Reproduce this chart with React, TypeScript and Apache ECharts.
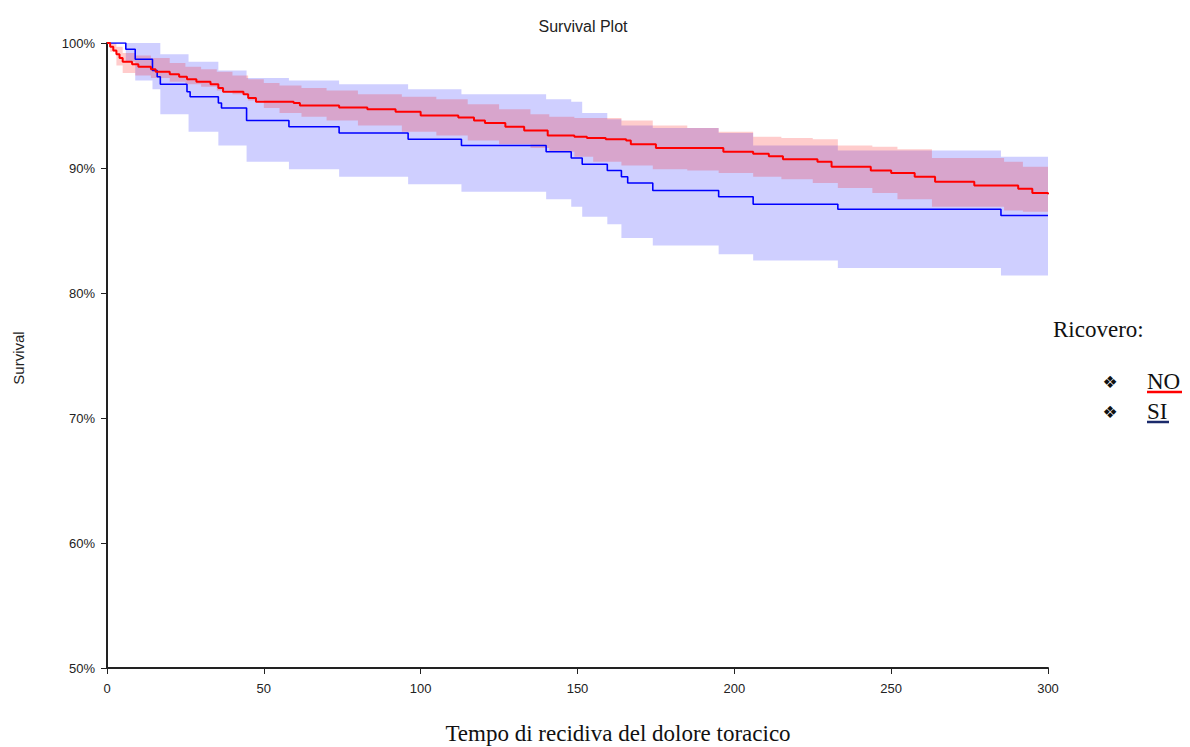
import React, { useEffect, useRef } from "react";
import * as echarts from "echarts";

// Kaplan-Meier survival, group SI (blue)
const siTimes = [0, 6, 9, 14.5, 16, 17, 25.5, 26.5, 35.5, 36.5, 44.5, 58, 74, 96, 113, 140, 148, 151.5, 159.5, 164, 166, 174, 195, 206, 233, 285, 300];
const siSurv = [100, 99.5, 98.7, 97.8, 97.3, 96.7, 96.1, 95.7, 95.2, 94.8, 93.8, 93.3, 92.8, 92.3, 91.8, 91.3, 90.8, 90.3, 89.8, 89.3, 88.8, 88.2, 87.7, 87.1, 86.7, 86.2, 86.2];
// Confidence band, group SI
const siBandT = [0, 6, 9, 14.5, 17, 26, 35.5, 44.5, 58, 74, 96, 113, 140, 148, 151.5, 159.5, 164, 174, 195, 206, 233, 285, 300];
const siBandLo = [100, 98.5, 97.0, 96.3, 94.3, 92.9, 91.8, 90.5, 89.9, 89.3, 88.7, 88.1, 87.5, 86.9, 86.1, 85.5, 84.4, 83.8, 83.1, 82.6, 82.0, 81.4, 81.4];
const siBandHi = [100, 100, 100, 100, 99.1, 98.5, 97.8, 97.2, 97.0, 96.7, 96.3, 95.9, 95.5, 95.3, 94.4, 93.9, 93.4, 93.2, 92.8, 91.8, 91.4, 90.9, 90.9];

// Kaplan-Meier survival, group NO (red)
const noTimes = [0, 1, 2, 3, 4, 5, 8, 10, 14, 15.5, 20, 23, 25.5, 28.5, 33, 35.5, 37, 43.5, 45, 47.5, 59.5, 61.5, 74, 83, 92, 100, 112, 117, 120.5, 127, 133, 140.5, 149, 153, 159, 165.5, 167, 175, 196.5, 206, 211, 215.5, 226.5, 231, 243.5, 250, 257.5, 264, 276.5, 290.5, 295, 300];
const noSurv = [100, 99.7, 99.4, 99.1, 98.8, 98.5, 98.3, 98.1, 97.9, 97.7, 97.5, 97.3, 97.1, 96.9, 96.7, 96.4, 96.1, 95.9, 95.6, 95.3, 95.2, 95.0, 94.85, 94.7, 94.5, 94.2, 94.05, 93.8, 93.6, 93.3, 93.0, 92.6, 92.5, 92.4, 92.3, 92.2, 91.9, 91.6, 91.3, 91.15, 90.95, 90.7, 90.5, 90.1, 89.8, 89.6, 89.3, 88.9, 88.6, 88.35, 88.0, 87.9];
// Confidence band, group NO
const noBandT = [0, 1, 3, 5, 9, 14, 20, 25, 30, 35, 40, 45, 50, 55, 62, 70, 80, 94, 105, 115, 125, 135, 141, 149, 155, 164, 174, 185, 195, 206, 215, 225, 233, 244, 252, 263, 286, 292, 300];
const noBandLo = [100, 99.3, 98.2, 97.6, 97.4, 97.2, 96.9, 96.7, 96.5, 96.2, 95.9, 95.4, 94.8, 94.4, 94.1, 93.8, 93.4, 92.9, 92.6, 92.2, 91.9, 91.6, 91.3, 90.9, 90.5, 90.2, 89.9, 89.8, 89.6, 89.3, 89.1, 88.8, 88.4, 88.0, 87.5, 86.9, 86.6, 86.5, 86.5];
const noBandHi = [100, 100, 99.7, 99.2, 99.0, 98.8, 98.4, 98.1, 97.9, 97.7, 97.4, 97.1, 96.8, 96.6, 96.4, 96.2, 95.9, 95.7, 95.5, 95.1, 94.7, 94.3, 94.1, 94.0, 94.0, 93.8, 93.4, 93.2, 92.9, 92.5, 92.4, 92.3, 91.8, 91.7, 91.5, 90.8, 90.5, 90.1, 89.9];

const groupNames = ["NO", "SI"];
const legendTitle = "Ricovero:";
const xAxisName = "Tempo di recidiva del dolore toracico";
const yAxisName = "Survival";
const chartTitle = "Survival Plot";

const SANS = "'Liberation Sans', Arial, sans-serif";
const SERIF = "'Liberation Serif', 'Times New Roman', serif";

const zip = (a: number[], b: number[]) => a.map((v, i) => [v, b[i]]);

// Stepped confidence band drawn as one polygon through the grid's own scales
function bandSeries(name: string, t: number[], lo: number[], hi: number[], color: string) {
  return {
    type: "custom",
    name,
    silent: true,
    coordinateSystem: "cartesian2d",
    data: t.map((v, i) => [v, lo[i], hi[i]]),
    encode: { x: 0, y: [1, 2] },
    renderItem: (params: any, api: any) => {
      if (params.dataIndexInside !== 0) return null;
      const n = params.dataInsideLength;
      const top: number[][] = [];
      const bottom: number[][] = [];
      for (let i = 0; i < n; i++) {
        const x0 = api.value(0, i);
        const x1 = i + 1 < n ? api.value(0, i + 1) : x0;
        const l = api.value(1, i);
        const h = api.value(2, i);
        top.push(api.coord([x0, h]));
        top.push(api.coord([x1, h]));
        bottom.push(api.coord([x0, l]));
        bottom.push(api.coord([x1, l]));
      }
      const points = top.concat(bottom.reverse());
      return {
        type: "polygon",
        shape: { points },
        style: { fill: color, stroke: "none" },
      };
    },
  };
}

export default function App() {
  const ref = useRef<HTMLDivElement>(null);
  useEffect(() => {
    const chart = echarts.init(ref.current!, null, { renderer: "svg" });
    const option: any = {
      animation: false,
      backgroundColor: "#ffffff",
      title: {
        text: chartTitle,
        left: 578,
        top: 13,
        textAlign: "center",
        textStyle: { fontFamily: SANS, fontSize: 16, fontWeight: "normal", color: "#222" },
      },
      grid: { left: 107, right: 142, top: 43, bottom: 79, containLabel: false },
      xAxis: {
        type: "value",
        min: 0,
        max: 300,
        interval: 50,
        axisLine: { show: true, lineStyle: { color: "#222", width: 2 } },
        axisTick: { show: true, length: 6, lineStyle: { color: "#222", width: 1 } },
        axisLabel: { fontFamily: SANS, fontSize: 13, color: "#222", margin: 14 },
        splitLine: { show: false },
      },
      yAxis: {
        type: "value",
        min: 50,
        max: 100,
        interval: 10,
        axisLine: { show: true, lineStyle: { color: "#222", width: 2 } },
        axisTick: { show: true, length: 6, lineStyle: { color: "#222", width: 1 } },
        axisLabel: { fontFamily: SANS, fontSize: 13, color: "#222", margin: 12, formatter: "{value}%" },
        splitLine: { show: false },
      },
      series: [
        bandSeries("SI band", siBandT, siBandLo, siBandHi, "rgba(0,0,255,0.19)"),
        bandSeries("NO band", noBandT, noBandLo, noBandHi, "rgba(255,0,0,0.2)"),
        {
          type: "line",
          name: "SI",
          step: "end",
          symbol: "none",
          silent: true,
          lineStyle: { color: "#0000ff", width: 1.6 },
          data: zip(siTimes, siSurv),
        },
        {
          type: "line",
          name: "NO",
          step: "end",
          symbol: "none",
          silent: true,
          lineStyle: { color: "#ff0000", width: 2 },
          data: zip(noTimes, noSurv),
        },
      ],
      graphic: [
        {
          type: "text",
          x: 618,
          y: 733,
          style: { text: xAxisName, font: `23px ${SERIF}`, fill: "#111", align: "center", verticalAlign: "middle" },
        },
        {
          type: "text",
          x: 18,
          y: 358,
          rotation: Math.PI / 2,
          style: { text: yAxisName, font: `15px ${SANS}`, fill: "#222", align: "center", verticalAlign: "middle" },
        },
        {
          type: "text",
          x: 1053,
          y: 329,
          style: { text: legendTitle, font: `23px ${SERIF}`, fill: "#111", verticalAlign: "middle" },
        },
        {
          type: "text",
          x: 1110,
          y: 382,
          style: { text: "\u2756", font: `17px 'DejaVu Sans'`, fill: "#111", align: "center", verticalAlign: "middle" },
        },
        {
          type: "text",
          x: 1110,
          y: 412,
          style: { text: "\u2756", font: `17px 'DejaVu Sans'`, fill: "#111", align: "center", verticalAlign: "middle" },
        },
        {
          type: "text",
          x: 1147,
          y: 381,
          style: { text: groupNames[0], font: `23px ${SERIF}`, fill: "#111", verticalAlign: "middle" },
        },
        {
          type: "text",
          x: 1147,
          y: 411,
          style: { text: groupNames[1], font: `23px ${SERIF}`, fill: "#111", verticalAlign: "middle" },
        },
        {
          type: "line",
          shape: { x1: 1147, y1: 392, x2: 1182, y2: 392 },
          style: { stroke: "#ff0000", lineWidth: 2.5 },
        },
        {
          type: "line",
          shape: { x1: 1147, y1: 422, x2: 1169, y2: 422 },
          style: { stroke: "#1b2a6b", lineWidth: 2.5 },
        },
      ],
    };
    chart.setOption(option);
    return () => chart.dispose();
  }, []);
  return (
    <div
      ref={ref}
      style={{ position: "fixed", left: 0, top: 0, width: 1190, height: 747, background: "#fff" }}
    />
  );
}
